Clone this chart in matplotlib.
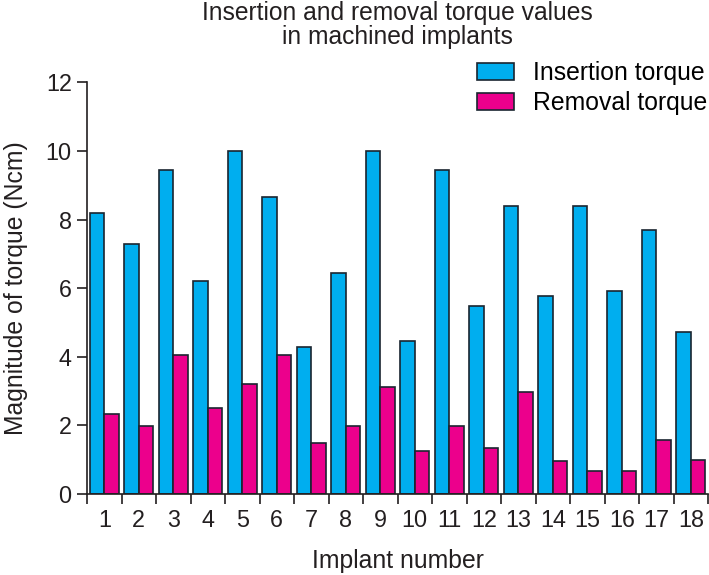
import matplotlib
matplotlib.use("Agg")
import matplotlib.pyplot as plt
import numpy as np

plt.rcParams['font.family'] = ['Liberation Sans', 'DejaVu Sans']

implants = list(range(1, 19))
insertion = [8.2, 7.3, 9.43, 6.21, 10.0, 8.65, 4.29, 6.43, 10.0,
             4.47, 9.43, 5.47, 8.38, 5.77, 8.38, 5.91, 7.69, 4.73]
removal = [2.33, 1.99, 4.04, 2.52, 3.21, 4.04, 1.50, 1.99, 3.11,
           1.25, 1.99, 1.34, 2.98, 0.95, 0.68, 0.68, 1.56, 0.98]
y_ticks = [0, 2, 4, 6, 8, 10, 12]

title = "Insertion and removal torque values\nin machined implants"
xlabel = "Implant number"
ylabel = "Magnitude of torque (Ncm)"
labels = ["Insertion torque", "Removal torque"]

blue = "#00AEEF"
pink = "#EC008C"
edge = "#1a2530"
txt = "#231f20"

fig = plt.figure(figsize=(7.09, 5.75), dpi=100)
ax = fig.add_axes([87/709, 81/575, 621/709, (494-82.3)/575])

x = np.array(implants)
w = 0.415
ax.bar(x - w/2, insertion, width=w, color=blue, edgecolor=edge, linewidth=1.2, label=labels[0])
ax.bar(x + w/2, removal, width=w, color=pink, edgecolor=edge, linewidth=1.2, label=labels[1])

ax.set_xlim(0.5, 18.5)
ax.set_ylim(0, 12)
ax.set_yticks(y_ticks)
ax.set_xticks(x)
ax.set_xticklabels([str(i) for i in implants])
ax.set_xticks(np.arange(0.5, 19, 1), minor=True)
ax.tick_params(axis='x', which='major', length=0, pad=11, labelsize=16.8)
ax.tick_params(axis='x', which='minor', length=7, width=1.2, color=txt)
ax.tick_params(axis='y', length=7, width=1.2, color=txt, labelsize=16.8, pad=4)

for s in ['top', 'right']:
    ax.spines[s].set_visible(False)
for s in ['left', 'bottom']:
    ax.spines[s].set_linewidth(1.2)
    ax.spines[s].set_color(txt)

ax.set_xlabel(xlabel, fontsize=17.8, labelpad=12, color=txt)
ax.set_ylabel(ylabel, fontsize=17.8, labelpad=13, color=txt)
for t in ax.get_xticklabels() + ax.get_yticklabels():
    t.set_color(txt)

fig.text(397/709, 1 - 1/575, title, ha='center', va='top', fontsize=17.7,
         color=txt, linespacing=1.0)

ax.legend(loc='upper right', bbox_to_anchor=(712/709, 1 - 56/575),
          bbox_transform=fig.transFigure, frameon=False, fontsize=17.8,
          handlelength=1.5, handleheight=0.7, handletextpad=0.75,
          labelspacing=0.25, borderpad=0.2, borderaxespad=0)

fig.savefig("out.png", dpi=100)
